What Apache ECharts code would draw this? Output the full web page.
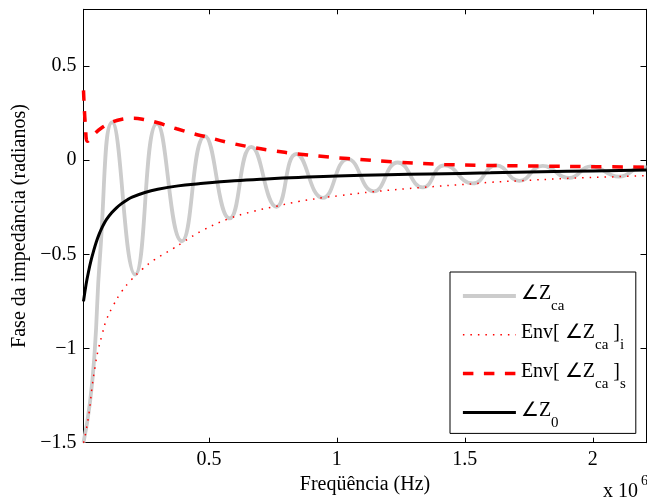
<!DOCTYPE html>
<html><head><meta charset="utf-8">
<script src="https://cdn.jsdelivr.net/npm/echarts@6/dist/echarts.min.js"></script>
<style>html,body{margin:0;padding:0;background:#fff}#c{width:647px;height:501px}</style>
</head><body><div id="c"></div>
<script>
// x values in units of 10^6 Hz
const xTicks = [0.5, 1, 1.5, 2];
const yTicks = [-1.5, -1, -0.5, 0, 0.5];

const zcaFreq  = [0.01, 0.035, 0.054, 0.074, 0.122, 0.212, 0.297, 0.394, 0.484, 0.581, 0.666, 0.764, 0.842, 0.945, 1.043, 1.144, 1.238, 1.336, 1.42, 1.531, 1.623, 1.713, 1.804, 1.908, 1.993, 2.103, 2.193, 2.21];
const zcaPhase = [-1.5, -1.29, -1.01, -0.52, 0.20, -0.608, 0.194, -0.431, 0.127, -0.31, 0.07, -0.248, 0.032, -0.201, 0.005, -0.166, -0.013, -0.145, -0.028, -0.124, -0.028, -0.11, -0.031, -0.095, -0.034, -0.088, -0.038, -0.039];

const envInfFreq  = [0.01, 0.017, 0.032, 0.043, 0.056, 0.067, 0.082, 0.099, 0.125, 0.158, 0.194, 0.239, 0.286, 0.36, 0.394, 0.48, 0.58, 0.68, 0.764, 0.85, 0.945, 1.01, 1.144, 1.336, 1.531, 1.6, 1.713, 1.908, 2.103, 2.21];
const envInfPhase = [-1.5, -1.46, -1.34, -1.21, -1.09, -1.01, -0.93, -0.85, -0.775, -0.70, -0.64, -0.58, -0.53, -0.47, -0.44, -0.37, -0.31, -0.27, -0.245, -0.22, -0.20, -0.189, -0.168, -0.145, -0.126, -0.118, -0.11, -0.097, -0.088, -0.082];

const envSupFreq  = [0.01, 0.018, 0.026, 0.05, 0.08, 0.126, 0.165, 0.205, 0.25, 0.297, 0.374, 0.444, 0.484, 0.57, 0.666, 0.75, 0.842, 0.97, 1.043, 1.245, 1.42, 1.57, 1.804, 1.993, 2.21];
const envSupPhase = [0.37, 0.17, 0.10, 0.135, 0.17, 0.204, 0.218, 0.222, 0.214, 0.199, 0.166, 0.138, 0.125, 0.095, 0.068, 0.05, 0.033, 0.016, 0.008, -0.012, -0.023, -0.028, -0.032, -0.035, -0.038];

const z0Freq  = [0.01, 0.02, 0.03, 0.04, 0.05, 0.06, 0.07, 0.08, 0.09, 0.10, 0.12, 0.14, 0.16, 0.18, 0.20, 0.25, 0.30, 0.38, 0.46, 0.6, 0.725, 0.85, 1.0, 1.2, 1.362, 1.6, 1.9, 2.21];
const z0Phase = [-0.75, -0.66, -0.59, -0.53, -0.48, -0.435, -0.397, -0.365, -0.338, -0.315, -0.28, -0.252, -0.23, -0.212, -0.197, -0.172, -0.155, -0.137, -0.126, -0.11, -0.10, -0.092, -0.084, -0.078, -0.074, -0.068, -0.06, -0.053];

const seriesNames = ['Zca', 'EnvI', 'EnvS', 'Z0'];
const legendLabels = {
  Zca: '{m|∠Z}{s|ca}',
  EnvI: '{m|Env[ ∠Z}{s|ca}{m| ]}{s|i}',
  EnvS: '{m|Env[ ∠Z}{s|ca}{m| ]}{s|s}',
  Z0: '{m|∠Z}{s|0}'
};

function zip(a, b) { return a.map((v, i) => [v, b[i]]); }
const FONT = 'Liberation Serif';
const minus = v => String(v).replace('-', '\u2212');

const chart = echarts.init(document.getElementById('c'), null, {renderer: 'canvas'});
const X_MIN = 0.01, X_MAX = 2.21, Y_MIN = -1.5, Y_MAX = 0.8;

const axisCommon = {
  type: 'value', splitLine: {show: false},
  axisLine: {show: true, onZero: false, lineStyle: {color: '#000', width: 1}}
};

chart.setOption({
  animation: false,
  backgroundColor: '#fff',
  grid: {left: 83.5, right: 0.5, top: 9.3, bottom: 58.3, containLabel: false},
  xAxis: [
    Object.assign({}, axisCommon, {
      position: 'bottom', min: X_MIN, max: X_MAX,
      axisTick: {show: true, inside: true, length: 5, customValues: xTicks, lineStyle: {color: '#000'}},
      axisLabel: {show: true, customValues: xTicks, margin: 7, color: '#000', fontSize: 20, fontFamily: FONT,
        formatter: v => minus(v)},
      name: 'Freqüência (Hz)', nameLocation: 'middle', nameGap: 28,
      nameTextStyle: {color: '#000', fontSize: 20, fontFamily: FONT}
    }),
    Object.assign({}, axisCommon, {
      position: 'top', min: X_MIN, max: X_MAX,
      axisTick: {show: true, inside: true, length: 5, customValues: xTicks, lineStyle: {color: '#000'}},
      axisLabel: {show: false}
    })
  ],
  yAxis: [
    Object.assign({}, axisCommon, {
      position: 'left', min: Y_MIN, max: Y_MAX,
      axisTick: {show: true, inside: true, length: 6, customValues: yTicks, lineStyle: {color: '#000'}},
      axisLabel: {show: true, customValues: yTicks, margin: 7, color: '#000', fontSize: 20, fontFamily: FONT,
        formatter: v => minus(v)},
      name: 'Fase da impedância (radianos)', nameLocation: 'middle', nameGap: 49,
      nameTextStyle: {color: '#000', fontSize: 20, fontFamily: FONT}
    }),
    Object.assign({}, axisCommon, {
      position: 'right', min: Y_MIN, max: Y_MAX,
      axisTick: {show: true, inside: true, length: 6, customValues: yTicks, lineStyle: {color: '#000'}},
      axisLabel: {show: false}
    })
  ],
  legend: {
    show: true, orient: 'vertical', left: 450, top: 272,
    padding: [12, 10, 3, 11], itemGap: 8.8, itemWidth: 53, itemHeight: 14,
    backgroundColor: '#fff', borderColor: '#000', borderWidth: 1, borderRadius: 0,
    data: seriesNames,
    itemStyle: {opacity: 0},
    lineStyle: {width: 'inherit'},
    formatter: n => legendLabels[n],
    textStyle: {
      color: '#000', fontFamily: FONT, fontSize: 20,
      rich: {
        m: {fontSize: 20, fontFamily: FONT, color: '#000', padding: [0, 0, 4, 0]},
        s: {fontSize: 15, fontFamily: FONT, color: '#000', padding: [21, 0, 0, 0]}
      }
    }
  },
  graphic: [
    {type: 'text', x: 603, y: 491.5, silent: true,
      style: {text: 'x 10', fontSize: 20, fontFamily: FONT, fill: '#000', align: 'left', verticalAlign: 'middle'}},
    {type: 'text', x: 641, y: 481, silent: true,
      style: {text: '6', fontSize: 14, fontFamily: FONT, fill: '#000', align: 'left', verticalAlign: 'middle'}}
  ],
  series: [
    {name: 'Zca', type: 'line', xAxisIndex: 0, yAxisIndex: 0, data: zip(zcaFreq, zcaPhase),
      symbol: 'none', smooth: 0.5, lineStyle: {color: '#cccccc', width: 3.8}, itemStyle: {color: '#cccccc'}},
    {name: 'EnvI', type: 'line', xAxisIndex: 0, yAxisIndex: 0, data: zip(envInfFreq, envInfPhase),
      symbol: 'none', smooth: 0.4, lineStyle: {color: '#ff0000', width: 1.5, type: [1.5, 6]}, itemStyle: {color: '#ff0000'}},
    {name: 'EnvS', type: 'line', xAxisIndex: 0, yAxisIndex: 0, data: zip(envSupFreq, envSupPhase),
      symbol: 'none', smooth: 0.4, lineStyle: {color: '#ff0000', width: 3.5, type: [10.5, 10.5]}, itemStyle: {color: '#ff0000'}},
    {name: 'Z0', type: 'line', xAxisIndex: 0, yAxisIndex: 0, data: zip(z0Freq, z0Phase),
      symbol: 'none', smooth: 0.4, lineStyle: {color: '#000000', width: 3}, itemStyle: {color: '#000'}}
  ]
});
</script>
</body></html>
